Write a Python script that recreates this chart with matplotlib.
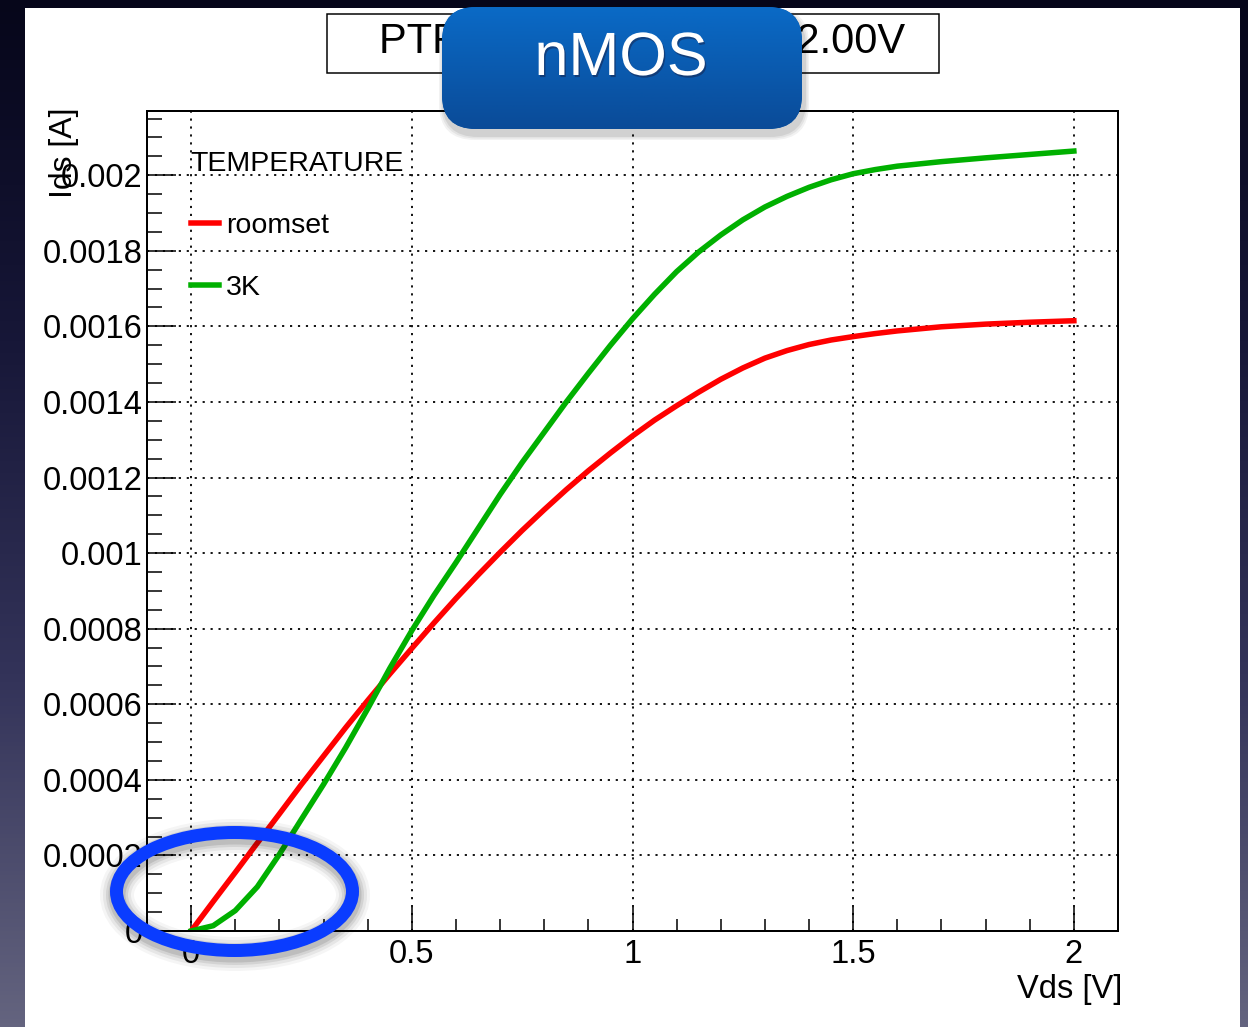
import numpy as np
import matplotlib
matplotlib.use("Agg")
import matplotlib.pyplot as plt
import matplotlib.patheffects as pe
from matplotlib.patches import Rectangle, Ellipse, FancyBboxPatch
from matplotlib.colors import LinearSegmentedColormap
from matplotlib.ticker import FixedLocator, MultipleLocator

plt.rcParams['font.family'] = ['Liberation Sans', 'DejaVu Sans']

# Ids-Vds curves (A vs V)
vds = [0, 0.05, 0.1, 0.15, 0.2, 0.25, 0.3, 0.35, 0.4, 0.45, 0.5, 0.55,
       0.6, 0.65, 0.7, 0.75, 0.8, 0.85, 0.9, 0.95, 1.0, 1.05, 1.1, 1.15,
       1.2, 1.25, 1.3, 1.35, 1.4, 1.45, 1.5, 1.55, 1.6, 1.7, 1.8, 1.9, 2.0]
ids_roomset = [0, 0.000078, 0.000155, 0.000233, 0.000310, 0.000388, 0.000463,
               0.000538, 0.000610, 0.000680, 0.000748, 0.000815, 0.000880,
               0.000942, 0.001002, 0.001060, 0.001115, 0.001168, 0.001218,
               0.001265, 0.001310, 0.001352, 0.001390, 0.001426, 0.001460,
               0.001490, 0.001516, 0.001536, 0.001552, 0.001564, 0.001573,
               0.001581, 0.001588, 0.001599, 0.001606, 0.001611, 0.001615]
ids_3k = [0, 0.000014, 0.000054, 0.000117, 0.000203, 0.000296, 0.000388,
          0.000485, 0.000588, 0.000695, 0.000795, 0.000888, 0.000975,
          0.001065, 0.001155, 0.001240, 0.001320, 0.001400, 0.001476,
          0.001550, 0.001620, 0.001685, 0.001745, 0.001797, 0.001842,
          0.001882, 0.001916, 0.001944, 0.001968, 0.001988, 0.002004,
          0.002015, 0.002024, 0.002036, 0.002046, 0.002055, 0.002064]
series_names = ["roomset", "3K"]
series_colors = ["#ff0000", "#00b000"]

x_ticks = [0, 0.5, 1, 1.5, 2]
x_tick_labels = ["0", "0.5", "1", "1.5", "2"]
y_ticks = [0, 0.0002, 0.0004, 0.0006, 0.0008, 0.001, 0.0012, 0.0014,
           0.0016, 0.0018, 0.002]
y_tick_labels = ["0", "0.0002", "0.0004", "0.0006", "0.0008", "0.001",
                 "0.0012", "0.0014", "0.0016", "0.0018", "0.002"]

title_text = "PTF nMOS Ids, Vgs = 2.00V"
badge_text = "nMOS"

W, H = 1248, 1027
PX = 0.72  # points per pixel at dpi 100

fig = plt.figure(figsize=(W / 100, H / 100), dpi=100)

# slide background + white panel
bg = fig.add_axes([0, 0, 1, 1], zorder=-5)
bg.axis('off')
grad = np.linspace(0, 1, 256).reshape(-1, 1)
slide_cmap = LinearSegmentedColormap.from_list(
    'slide', ['#06061a', '#171738', '#34345a', '#64647f'])
bg.imshow(grad, extent=(0, W, H, 0), cmap=slide_cmap, aspect='auto')
bg.add_patch(Rectangle((25, 8), 1215, 1030, facecolor='white', edgecolor='none'))
bg.set_xlim(0, W)
bg.set_ylim(H, 0)

# main plot
ax = fig.add_axes([147 / W, 1 - 931 / H, 971 / W, 820 / H], zorder=1)
ax.plot(vds, ids_roomset, color=series_colors[0], lw=5.5 * PX, label=series_names[0])
ax.plot(vds, ids_3k, color=series_colors[1], lw=5.5 * PX, label=series_names[1])
ax.set_xlim(-0.1, 2.1)
ax.set_ylim(0, 0.00217)

ax.xaxis.set_major_locator(FixedLocator(x_ticks))
ax.set_xticklabels(x_tick_labels)
ax.yaxis.set_major_locator(FixedLocator(y_ticks))
ax.set_yticklabels(y_tick_labels)
ax.xaxis.set_minor_locator(MultipleLocator(0.1))
ax.yaxis.set_minor_locator(MultipleLocator(0.00005))

ax.tick_params(axis='x', which='major', direction='in', length=17, width=1.1,
               pad=6, labelsize=23.5)
ax.tick_params(axis='x', which='minor', direction='in', length=9, width=1.1)
ax.tick_params(axis='y', which='major', direction='in', length=21, width=1.1,
               pad=3, labelsize=23.5)
ax.tick_params(axis='y', which='minor', direction='in', length=11, width=1.1)
for sp in ax.spines.values():
    sp.set_linewidth(2 * PX)

ax.grid(which='major', color='black', linestyle=(0, (1.2, 3.2)), linewidth=1.3)

leg = ax.legend(loc='upper left', bbox_to_anchor=(0.0448, 0.951),
                frameon=False, title='TEMPERATURE', fontsize=20.5,
                title_fontsize=20.5, handlelength=1.0, handletextpad=0.25,
                labelspacing=1.26, borderpad=0, borderaxespad=0,
                alignment='left')

fig.text(64 / W, 1 - 107 / H, "Ids [A]", rotation=90, ha='center', va='top',
         fontsize=23)
fig.text(1122 / W, 1 - 998 / H, "Vds [V]", ha='right', va='baseline',
         fontsize=23.5)

# overlay: title box, keynote badge, highlight ellipse
ov = fig.add_axes([0, 0, 1, 1], zorder=10)
ov.axis('off')
ov.patch.set_visible(False)

ov.add_patch(Rectangle((327, 14), 612, 59, facecolor='white', edgecolor='black',
                       lw=1.5 * PX, zorder=1))
ov.text(905, 53, title_text, ha='right', va='baseline', fontsize=30, zorder=2)

for i, a in enumerate([0.05, 0.06, 0.08]):
    grow = 10 - 3 * i
    ov.add_patch(FancyBboxPatch((442 - grow / 2 + 2, 7 - grow / 2 + 6),
                                360 + grow, 122 + grow,
                                boxstyle='round,pad=0,rounding_size=36',
                                facecolor='black', edgecolor='none', alpha=a,
                                zorder=3))
badge = FancyBboxPatch((442, 7), 360, 122, boxstyle='round,pad=0,rounding_size=34',
                       facecolor='#0a5cb0', edgecolor='none', zorder=4)
ov.add_patch(badge)
badge_cmap = LinearSegmentedColormap.from_list('badge', ['#0a6ac6', '#0a4b98'])
img = ov.imshow(np.linspace(0, 1, 100).reshape(-1, 1), extent=(442, 802, 129, 7),
                cmap=badge_cmap, aspect='auto', zorder=4.5)
img.set_clip_path(badge)
ov.text(621, 75, badge_text, color='white', fontsize=44, ha='center',
        va='baseline', zorder=5.5,
        path_effects=[pe.withSimplePatchShadow(offset=(1, -1.5),
                                               shadow_rgbFace='#1a1a3a',
                                               alpha=0.45)])

for lw, a in [(34, 0.04), (28, 0.06), (22, 0.08), (17, 0.1)]:
    ov.add_patch(Ellipse((235, 895), 236, 118, fill=False, edgecolor='black',
                         lw=lw * PX, alpha=a, zorder=6))
ov.add_patch(Ellipse((234.5, 891.5), 236, 118, fill=False, edgecolor='#0a3cff',
                     lw=13 * PX, zorder=7))

ov.set_xlim(0, W)
ov.set_ylim(H, 0)

fig.savefig("out.png", dpi=100)
